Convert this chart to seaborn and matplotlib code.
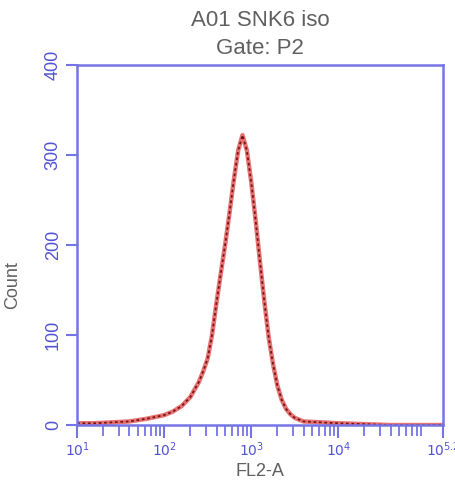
import matplotlib
matplotlib.use("Agg")
import matplotlib.pyplot as plt
import matplotlib.ticker as mticker
import seaborn as sns
import numpy as np
import pandas as pd

# histogram of FL2-A (log10 channel) vs count
log_fl2 = [1.0, 1.2, 1.4, 1.6, 1.8, 2.0, 2.1, 2.2, 2.3, 2.4, 2.45, 2.5, 2.55,
           2.6, 2.65, 2.7, 2.75, 2.8, 2.85, 2.9, 2.95, 3.0, 3.05, 3.1, 3.15,
           3.2, 3.25, 3.3, 3.35, 3.4, 3.45, 3.5, 3.6, 3.8, 4.0, 4.3, 4.6, 5.0, 5.2]
counts = [2, 2, 3, 4, 7, 11, 15, 21, 31, 48, 60, 74, 100,
          135, 168, 200, 235, 272, 305, 322, 305, 270, 228, 182, 138,
          98, 68, 44, 28, 18, 12, 8, 4, 3, 2, 1, 0, 0, 0]

title_lines = ["A01 SNK6 iso", "Gate: P2"]
y_ticks = [0, 100, 200, 300, 400]
x_tick_pos = [1, 2, 3, 4, 5.2]
x_tick_labels = ["$10^{1}$", "$10^{2}$", "$10^{3}$", "$10^{4}$", "$10^{5.2}$"]

df = pd.DataFrame({"FL2-A": np.power(10.0, log_fl2), "Count": counts})

sns.set_style("white")
plt.rcParams['font.family'] = ['Liberation Sans', 'DejaVu Sans']

axis_blue = '#7474e4'
label_blue = '#5252d6'
gray = '#606060'

fig = plt.figure(figsize=(4.56, 4.88), dpi=100)
ax = fig.add_axes([0.169, 0.129, 0.802, 0.738])

sns.lineplot(data=df, x="FL2-A", y="Count", ax=ax, color='#e25a5a',
             linewidth=3.2, alpha=0.85)
sns.lineplot(data=df, x="FL2-A", y="Count", ax=ax, color='#7a1515',
             linewidth=1.3, linestyle=(0, (1.5, 1.5)))

ax.set_xscale('log')
ax.set_xlim(10 ** 1, 10 ** 5.2)
ax.set_ylim(0, 400)

ax.set_xticks([10 ** p for p in x_tick_pos])
ax.set_xticklabels(x_tick_labels)
ax.xaxis.set_minor_locator(mticker.LogLocator(base=10, subs=np.arange(2, 10)))
ax.xaxis.set_minor_formatter(mticker.NullFormatter())
ax.set_yticks(y_ticks)
ax.set_yticklabels([str(v) for v in y_ticks], rotation=90, va='center')

for s in ax.spines.values():
    s.set_color(axis_blue)
    s.set_linewidth(1.8)

ax.tick_params(axis='both', which='both', bottom=True, left=True)
ax.tick_params(axis='x', which='major', direction='out', length=9,
               width=1.5, color=axis_blue, labelcolor=label_blue,
               labelsize=10, pad=2)
ax.tick_params(axis='y', which='major', direction='out', length=8,
               width=1.5, color=axis_blue, labelcolor=label_blue,
               labelsize=13, pad=3)
ax.tick_params(axis='x', which='minor', direction='out', length=8,
               width=1.3, color=axis_blue)

ax.set_xlabel("FL2-A", color=gray, fontsize=13, labelpad=3)
ax.set_ylabel("Count", color=gray, fontsize=13)
ax.yaxis.set_label_coords(-0.153, 0.39)

ax.set_title("\n".join(title_lines), color=gray, fontsize=16, pad=8,
             linespacing=1.4)

fig.savefig("out.png", dpi=100)
